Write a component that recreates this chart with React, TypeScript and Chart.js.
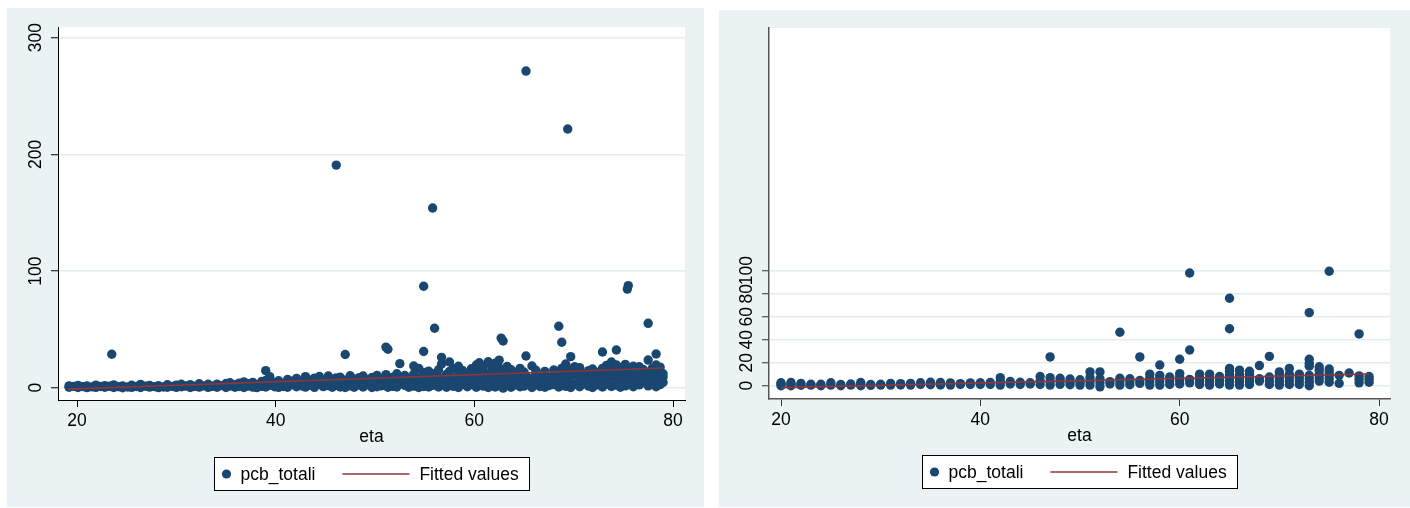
import React, { useEffect, useRef } from "react";
import { Chart, registerables } from "chart.js";

Chart.register(...registerables);

// ---------- text ----------
const seriesLabel = "pcb_totali";
const fitLabel = "Fitted values";
const xTitle = "eta";

// ---------- ticks ----------
const xTicks = [20, 40, 60, 80];
const leftYTicks = [0, 100, 200, 300];
const rightYTicks = [0, 20, 40, 60, 80, 100];

// ---------- left panel data (eta, pcb_totali values at that eta) ----------
const leftEta = [
  19.2, 19.7, 20.1, 20.6, 21.0, 21.5, 21.9, 22.4, 22.8, 23.3,
  23.5, 23.7, 24.2, 24.6, 25.1, 25.5, 26.0, 26.4, 26.9, 27.3,
  27.8, 28.2, 28.7, 29.1, 29.6, 30.0, 30.5, 30.9, 31.4, 31.8,
  32.3, 32.7, 33.2, 33.6, 34.1, 34.5, 35.0, 35.4, 35.9, 36.3,
  36.8, 37.2, 37.7, 38.1, 38.6, 39.0, 39.4, 39.9, 40.3, 40.8,
  41.2, 41.7, 42.1, 42.6, 43.0, 43.5, 43.9, 44.4, 44.8, 45.3,
  45.7, 46.1, 46.5, 47.0, 47.5, 47.9, 48.4, 48.8, 49.3, 49.7,
  50.2, 50.6, 51.1, 51.3, 51.8, 52.2, 52.5, 53.0, 53.4, 53.9,
  54.4, 54.9, 55.4, 55.8, 56.0, 56.4, 56.7, 57.2, 57.5, 57.9,
  58.4, 58.8, 59.3, 59.7, 60.2, 60.5, 60.9, 61.4, 61.8, 62.1,
  62.5, 62.7, 62.9, 63.3, 63.7, 64.1, 64.6, 65.0, 65.2, 65.8,
  66.2, 66.6, 67.1, 67.5, 68.0, 68.5, 68.8, 69.2, 69.4, 69.7,
  70.1, 70.6, 71.0, 71.5, 71.9, 72.4, 72.9, 73.3, 73.8, 74.3,
  74.7, 75.2, 75.4, 75.5, 76.0, 76.6, 77.0, 77.5, 77.9, 78.3,
  78.7, 79.0,
];
const leftPcb = [
  [0.4, 1.6], [1.1], [0.2, 2.0], [0.9], [1.5, 0.1], [0.7], [2.2, 0.3], [1.0], [0.4, 1.8], [1.2],
  [28.7], [0.2, 2.4], [0.8], [1.5, 0.0], [0.6], [2.1, 0.3], [1.0], [0.2, 2.8], [1.3], [0.5, 2.0],
  [0.9], [1.7, 0.1], [0.6], [2.5, 0.4], [1.1], [0.3, 2.2], [3.0, 0.8], [1.4], [0.2, 2.6], [1.0],
  [3.4, 0.5], [1.6], [0.3, 2.9], [1.2], [3.1, 0.4], [1.8], [0.2, 3.6], [1.5, 4.2], [0.4, 2.6], [3.8, 1.0],
  [0.2, 5.0, 2.2], [1.4, 3.5], [0.5, 4.6], [2.3, 0.1], [5.4, 1.2, 3.0], [14.6, 0.6, 6.2, 3.4], [2.0, 9.5], [0.8, 4.4], [6.0, 2.2, 0.3], [3.6, 1.0],
  [7.0, 0.4, 4.2], [2.6, 5.6], [0.8, 8.0, 3.2], [1.6, 5.2], [9.5, 0.5, 3.8], [6.4, 2.0], [0.3, 4.6, 8.2], [2.8, 6.0, 9.6], [0.9, 4.0], [7.6, 1.8, 10.0],
  [3.2, 0.4, 6.0], [190.8, 2.0, 8.4], [9.0, 3.4, 0.6, 5.0], [28.5, 6.4, 0.2, 3.0], [10.2, 4.6, 1.6], [7.2, 0.4, 3.0], [2.2, 5.6, 8.6], [0.6, 4.0, 10.0], [6.8, 2.4], [0.2, 8.8, 4.4],
  [3.0, 10.6, 6.0, 0.8], [5.2, 1.6, 8.0], [34.8, 2.8, 11.2], [33.0, 0.4, 6.4], [4.2, 9.0, 1.2], [12.0, 6.6, 0.6, 3.4], [20.6, 8.2], [2.0, 5.6, 10.4], [0.4, 7.8, 3.6], [11.6, 5.0, 1.4, 18.6],
  [16.6, 2.8, 8.4, 0.2], [87.0, 31.0, 13.0, 6.0, 1.0], [10.0, 3.4, 0.6, 14.2], [154.0, 7.6, 2.0], [51.0, 12.0, 4.2], [9.2, 0.6, 15.4, 5.6], [26.0, 20.3, 2.4], [11.4, 6.8, 0.4], [22.0, 3.6, 14.0], [8.0, 1.2, 16.6, 4.8],
  [12.4, 0.2, 6.4, 18.4], [3.0, 9.6, 14.8], [0.8, 7.0, 11.6, 5.0], [16.2, 2.6, 9.0], [19.5, 12.8, 0.4, 6.0], [21.4, 4.0, 10.4], [1.4, 8.2, 14.6, 18.0], [22.2, 5.6, 0.2, 11.0], [15.6, 2.8, 8.8, 19.0], [20.9, 12.0, 0.6, 5.2],
  [17.0, 1.8, 9.4, 23.6], [42.5, 14.0, 3.8], [40.0, 6.8, -0.4, 11.4], [18.2, 2.0, 13.2, 8.0], [15.4, 0.4, 5.2, 10.6], [7.6, 12.6, 2.4], [16.6, 0.8, 9.8, 4.4], [13.4, 6.4, 1.4], [27.2, 271.4, 10.2], [18.6, 3.0, 7.8, 0.2],
  [12.4, 5.4, 15.0], [1.0, 9.2, 3.6], [14.0, 6.8, 0.4, 11.0], [4.6, 8.6, 1.8], [10.6, 15.2, 2.6], [52.7, 6.0, 0.6, 13.6], [39.0, 9.4, 3.8, 16.6], [20.3, 1.2, 12.0, 6.8], [221.7, 8.2], [26.6, 4.2, 15.8, 0.2],
  [18.0, 10.8, 2.8], [6.4, 13.6, 0.8, 17.2], [9.4, 3.2, 12.0], [1.4, 7.0, 14.6], [11.0, 4.8, 0.2, 16.0], [8.4, 13.0, 2.4], [30.6, 16.6, 5.6, 0.6, 10.6], [19.0, 3.0, 12.6, 7.4], [14.8, 1.0, 9.0, 22.0], [32.3, 19.5, 6.0, 2.2, 12.0],
  [17.0, 9.8, 4.0, 0.4], [12.6, 6.6, 1.6, 20.0], [84.5, 15.0], [87.5, 8.8, 3.4], [18.4, 11.2, 5.0, 0.8], [18.0, 7.6, 13.4, 2.4], [9.6, 4.4, 15.6], [55.2, 23.7, 11.8, 6.0, 1.6], [16.4, 8.8, 3.2], [28.9, 19.5, 10.4, 5.6, 0.8],
  [13.8, 6.8, 2.6, 17.6], [9.2, 4.6, 12.0],
];
const leftFitEta = [19.1, 79.0];
const leftFitPcb = [-1.2, 16.9];

// ---------- right panel data ----------
const rightEta = [
  20, 21, 22, 23, 24, 25, 26, 27, 28, 29,
  30, 31, 32, 33, 34, 35, 36, 37, 38, 39,
  40, 41, 42, 43, 44, 45, 46, 47, 48, 49,
  50, 51, 52, 53, 54, 55, 56, 57, 58, 59,
  60, 61, 62, 63, 64, 65, 66, 67, 68, 69,
  70, 71, 72, 73, 74, 75, 76, 77, 78, 79,
];
const rightPcb = [
  [0, 1.5, 2.5], [0, 1.2, 2.8], [0.4, 2], [0.5, 1.2], [0, 1.2], [0.5, 2.5], [0, 1], [0.5, 1.5], [0, 1.2, 2.8], [0.3, 1],
  [0.5, 1.2], [0.5, 2], [0.6, 1.8], [0.5, 2], [1, 2.5], [0.8, 3], [0.6, 2.8], [0.5, 2.4], [1, 1.8], [1, 2.4],
  [1, 2.6], [1, 2.8], [0.5, 3.5, 7], [1.5, 3.6], [1, 3], [1.5, 2.5], [1, 4, 8], [0.5, 3.5, 7, 25], [1.2, 4, 6.5], [0.8, 3, 5.8],
  [0.5, 3, 5.2], [0.5, 3.5, 7, 12], [-1, 2.5, 6, 12], [1.5, 3.5], [0.5, 3.5, 6.5, 46.5], [0.8, 3.5, 6], [2, 4.5, 25], [0.5, 3.5, 6.5, 10], [0.5, 3.5, 6.5, 9, 18], [1, 4, 7.5],
  [1.5, 4.5, 7.5, 10.5, 23], [2.5, 5.5, 31, 98], [1, 4, 7, 10], [0.5, 3.5, 6.5, 10], [1.5, 4.5, 8], [0.5, 3.5, 6.5, 9.5, 12.5, 15, 49.5, 76], [0.5, 3.5, 6.5, 9.5, 13.5], [1, 4, 7, 10, 12.5], [4, 6, 17.5], [1, 4, 7.5, 25.5],
  [0.5, 3.5, 6.5, 9.5, 12], [1, 4, 7, 10, 15], [1, 4, 7, 10], [0, 3, 6, 9, 17, 19.5, 23, 63.5], [4, 7, 10, 13.5, 16.5], [3, 6, 9, 12, 14.5, 99.5], [2, 9], [11], [2.5, 5.5, 8.5, 45], [3, 5.5, 8],
];
const rightFitEta = [20, 79];
const rightFitPcb = [-1.7, 10.2];

// ---------- styling ----------
const FONT_FAMILY = '"Liberation Sans", Arial, Helvetica, sans-serif';
const FONT_SIZE = 17.5;
const BG = "#EAF2F3";
const NAVY = "#1A476F";
const MAROON = "#90353B";
const GRID = "#E3ECEE";

type PanelSpec = {
  left: number;
  top: number;
  w: number;
  h: number;
  padding: { left: number; top: number; right: number; bottom: number };
  yAxisWidth: number;
  xMin: number;
  xMax: number;
  yMin: number;
  yMax: number;
  yTicks: number[];
  eta: number[];
  pcb: number[][];
  fitEta: number[];
  fitPcb: number[];
  axisColor: string;
  axisWidth: number;
  tickColor: string;
  radius: number;
  legendOffset: number;
};

function buildPoints(eta: number[], pcb: number[][]) {
  return eta.flatMap((e, i) => pcb[i].map((v) => ({ x: e, y: v })));
}

const bgPlugin = {
  id: "stataBackground",
  beforeDraw(chart: any) {
    const { ctx, chartArea, width, height } = chart;
    ctx.save();
    ctx.fillStyle = BG;
    ctx.fillRect(0, 0, width, height);
    ctx.fillStyle = "#ffffff";
    ctx.fillRect(
      chartArea.left,
      chartArea.top,
      chartArea.right - chartArea.left,
      chartArea.bottom - chartArea.top
    );
    ctx.restore();
  },
};

function makeLegendPlugin(offset: number) {
  return {
    id: "stataLegend",
    afterDraw(chart: any) {
      const { ctx, chartArea } = chart;
      const lineDs = chart.data.datasets[0];
      const ptDs = chart.data.datasets[1];
      ctx.save();
      ctx.font = `${FONT_SIZE}px ${FONT_FAMILY}`;
      const w1 = ctx.measureText(ptDs.label).width;
      const w2 = ctx.measureText(lineDs.label).width;
      const bw = Math.round(26 + w1 + 27 + 67 + 10 + w2 + 11);
      const bh = 33;
      const cx = (chartArea.left + chartArea.right) / 2;
      const bx = Math.round(cx - bw / 2) + 0.5;
      const by = Math.round(chartArea.bottom + offset) + 0.5;
      ctx.fillStyle = "#ffffff";
      ctx.fillRect(bx, by, bw, bh);
      ctx.strokeStyle = "#000000";
      ctx.lineWidth = 1;
      ctx.strokeRect(bx, by, bw, bh);
      const cy = by + bh / 2;
      ctx.fillStyle = ptDs.backgroundColor;
      ctx.beginPath();
      ctx.arc(bx + 12, cy, 4.6, 0, Math.PI * 2);
      ctx.fill();
      ctx.fillStyle = "#000000";
      ctx.textBaseline = "middle";
      ctx.textAlign = "left";
      ctx.fillText(ptDs.label, bx + 26, cy + 1);
      const lx = bx + 26 + w1 + 27;
      ctx.strokeStyle = lineDs.borderColor;
      ctx.lineWidth = 1.6;
      ctx.beginPath();
      ctx.moveTo(lx, cy);
      ctx.lineTo(lx + 67, cy);
      ctx.stroke();
      ctx.fillText(lineDs.label, lx + 77, cy + 1);
      ctx.restore();
    },
  };
}

function Panel({ spec }: { spec: PanelSpec }) {
  const ref = useRef<HTMLCanvasElement | null>(null);
  useEffect(() => {
    if (!ref.current) return;
    const font = { family: FONT_FAMILY, size: FONT_SIZE, lineHeight: 1.2 };
    const chart = new Chart(ref.current, {
      type: "scatter",
      data: {
        datasets: [
          {
            label: fitLabel,
            data: spec.fitEta.map((x, i) => ({ x, y: spec.fitPcb[i] })),
            showLine: true,
            borderColor: MAROON,
            backgroundColor: MAROON,
            borderWidth: 1.6,
            pointRadius: 0,
            order: 0,
          },
          {
            label: seriesLabel,
            data: buildPoints(spec.eta, spec.pcb),
            backgroundColor: NAVY,
            borderColor: NAVY,
            borderWidth: 0,
            pointRadius: spec.radius,
            order: 1,
          },
        ],
      },
      options: {
        responsive: false,
        animation: false,
        events: [],
        layout: { padding: spec.padding },
        plugins: { legend: { display: false }, tooltip: { enabled: false } },
        scales: {
          x: {
            type: "linear",
            position: "bottom",
            min: spec.xMin,
            max: spec.xMax,
            afterBuildTicks: (sc: any) => {
              sc.ticks = xTicks.map((v) => ({ value: v }));
            },
            afterFit: (sc: any) => {
              sc.height = 50;
            },
            grid: {
              display: true,
              drawOnChartArea: false,
              drawTicks: true,
              tickLength: 7,
              tickColor: spec.tickColor,
              tickWidth: 1,
            },
            border: { display: true, color: spec.axisColor, width: spec.axisWidth },
            ticks: {
              color: "#000",
              font,
              padding: 3.5,
              autoSkip: false,
              maxRotation: 0,
              minRotation: 0,
            },
            title: {
              display: true,
              text: xTitle,
              color: "#000",
              font,
              padding: { top: 0, bottom: 2 },
            },
          },
          y: {
            type: "linear",
            position: "left",
            min: spec.yMin,
            max: spec.yMax,
            afterBuildTicks: (sc: any) => {
              sc.ticks = spec.yTicks.map((v) => ({ value: v }));
            },
            afterFit: (sc: any) => {
              sc.width = spec.yAxisWidth;
            },
            grid: {
              display: true,
              drawOnChartArea: true,
              color: GRID,
              lineWidth: 1.5,
              drawTicks: true,
              tickLength: 7,
              tickColor: spec.tickColor,
              tickWidth: 1,
            },
            border: { display: true, color: spec.axisColor, width: spec.axisWidth },
            ticks: {
              color: "#000",
              font,
              padding: 0,
              autoSkip: false,
              minRotation: 90,
              maxRotation: 90,
              crossAlign: "center",
            },
          },
        },
      },
      plugins: [bgPlugin, makeLegendPlugin(spec.legendOffset)],
    } as any);
    return () => chart.destroy();
  }, [spec]);
  return (
    <canvas
      ref={ref}
      width={spec.w}
      height={spec.h}
      style={{
        position: "absolute",
        left: spec.left,
        top: spec.top,
        width: spec.w,
        height: spec.h,
        display: "block",
      }}
    />
  );
}

const leftSpec: PanelSpec = {
  left: 7,
  top: 8,
  w: 697,
  h: 499,
  padding: { left: 0, top: 19, right: 19, bottom: 57 },
  yAxisWidth: 51,
  xMin: 18.087,
  xMax: 81.208,
  yMin: -10.54,
  yMax: 309.17,
  yTicks: leftYTicks,
  eta: leftEta,
  pcb: leftPcb,
  fitEta: leftFitEta,
  fitPcb: leftFitPcb,
  axisColor: "#000000",
  axisWidth: 1,
  tickColor: "#000000",
  radius: 4.7,
  legendOffset: 57,
};

const rightSpec: PanelSpec = {
  left: 719,
  top: 10,
  w: 691,
  h: 497,
  padding: { left: 0, top: 18, right: 20, bottom: 58 },
  yAxisWidth: 50,
  xMin: 18.796,
  xMax: 81.1,
  yMin: -11.57,
  yMax: 311.0,
  yTicks: rightYTicks,
  eta: rightEta,
  pcb: rightPcb,
  fitEta: rightFitEta,
  fitPcb: rightFitPcb,
  axisColor: "#555555",
  axisWidth: 1.5,
  tickColor: "#333333",
  radius: 4.7,
  legendOffset: 56,
};

export default function App() {
  return (
    <div
      style={{
        position: "absolute",
        left: 0,
        top: 0,
        width: 1410,
        height: 508,
        background: "#ffffff",
        overflow: "hidden",
      }}
    >
      <Panel spec={leftSpec} />
      <Panel spec={rightSpec} />
    </div>
  );
}
